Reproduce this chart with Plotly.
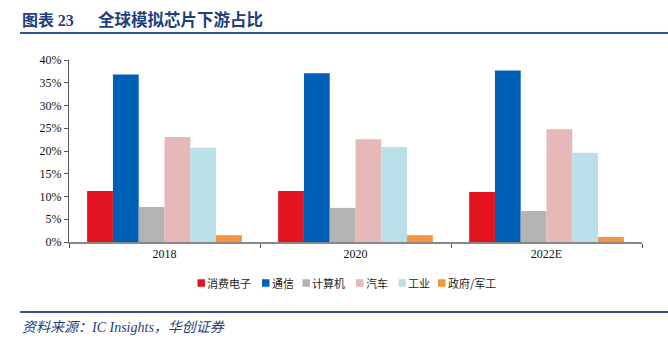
import plotly.graph_objects as go

# Downstream share of the global analog chip market (%)
years = ["2018", "2020", "2022E"]
segments = ["消费电子", "通信", "计算机", "汽车", "工业", "政府/军工"]
share_consumer = [11.2, 11.2, 11.0]
share_comm = [36.8, 37.1, 37.7]
share_computer = [7.7, 7.5, 6.8]
share_auto = [23.1, 22.6, 24.8]
share_industrial = [20.7, 20.9, 19.6]
share_gov = [1.5, 1.5, 1.1]

series_values = [share_consumer, share_comm, share_computer,
                 share_auto, share_industrial, share_gov]
colors = ["#E3141F", "#0060B7", "#B3B3B3", "#E6B9B8", "#B9DFE9", "#F39443"]

fig = go.Figure()
for name, vals, col in zip(segments, series_values, colors):
    fig.add_trace(go.Bar(x=years, y=vals, name=name, marker_color=col,
                         marker_line_width=0, showlegend=False))

navy = "#1F3F7C"
serif = "Liberation Serif, Times New Roman, serif"
cjk = "Noto Sans CJK SC"

W, H = 668, 342
ML, MR, MT, MB = 69, 26, 60, 100
PW, PH = W - ML - MR, H - MT - MB


def px_x(x):
    """Pixel x -> paper x."""
    return (x - ML) / PW


def px_y(y):
    """Pixel y (from top) -> paper y."""
    return (H - MB - y) / PH


fig.update_layout(
    width=W, height=H,
    margin=dict(l=ML, r=MR, t=MT, b=MB),
    paper_bgcolor="white", plot_bgcolor="white",
    barmode="group", bargap=0.19, bargroupgap=0,
    showlegend=False,
    xaxis=dict(showline=True, linecolor="#888888", linewidth=1.5,
               ticks="outside", tickson="boundaries", ticklen=4,
               tickcolor="#555555", tickfont=dict(family=serif, size=12, color="#111"),
               showgrid=False),
    yaxis=dict(range=[0, 40], dtick=5, ticksuffix="%", showgrid=False,
               showline=True, linecolor="#555555", linewidth=1,
               ticks="outside", ticklen=4, tickcolor="#555555",
               tickfont=dict(family=serif, size=12, color="#111"),
               zeroline=False),
    font=dict(family=cjk),
)

# Legend row: colour swatch + label for each segment
legend_left = [197.5, 262, 302.5, 356, 398.5, 438]
legend_yc = 283
for name, col, lx in zip(segments, colors, legend_left):
    fig.add_shape(type="rect", xref="paper", yref="paper",
                  x0=px_x(lx), x1=px_x(lx + 7.5),
                  y0=px_y(legend_yc + 3.75), y1=px_y(legend_yc - 3.75),
                  fillcolor=col, line=dict(width=0))
    fig.add_annotation(xref="paper", yref="paper", x=px_x(lx + 8.5), y=px_y(legend_yc),
                       xanchor="left", yanchor="middle", showarrow=False,
                       text=name, borderpad=0,
                       font=dict(family=cjk, size=11, color="#222"))

# Header rule and footer rule
for y in (33, 312):
    fig.add_shape(type="line", xref="paper", yref="paper",
                  x0=px_x(20), x1=px_x(668), y0=px_y(y), y1=px_y(y),
                  line=dict(color="#2A5598", width=2))

# Chart title
fig.add_annotation(xref="paper", yref="paper", x=px_x(21), y=px_y(19),
                   xanchor="left", yanchor="middle", showarrow=False, borderpad=0,
                   text="<b>图表 <span style='font-family:Liberation Serif'>23</span></b>",
                   font=dict(family=cjk, size=16, color=navy))
fig.add_annotation(xref="paper", yref="paper", x=px_x(97), y=px_y(19),
                   xanchor="left", yanchor="middle", showarrow=False, borderpad=0,
                   text="<b>全球模拟芯片下游占比</b>",
                   font=dict(family=cjk, size=16.5, color=navy))

# Source note
fig.add_annotation(xref="paper", yref="paper", x=px_x(21), y=px_y(326),
                   xanchor="left", yanchor="middle", showarrow=False, borderpad=0,
                   text="<i>资料来源：<span style='font-family:Liberation Serif'>IC Insights</span>，华创证券</i>",
                   font=dict(family=cjk, size=14, color=navy))

fig.write_html("out.html")
